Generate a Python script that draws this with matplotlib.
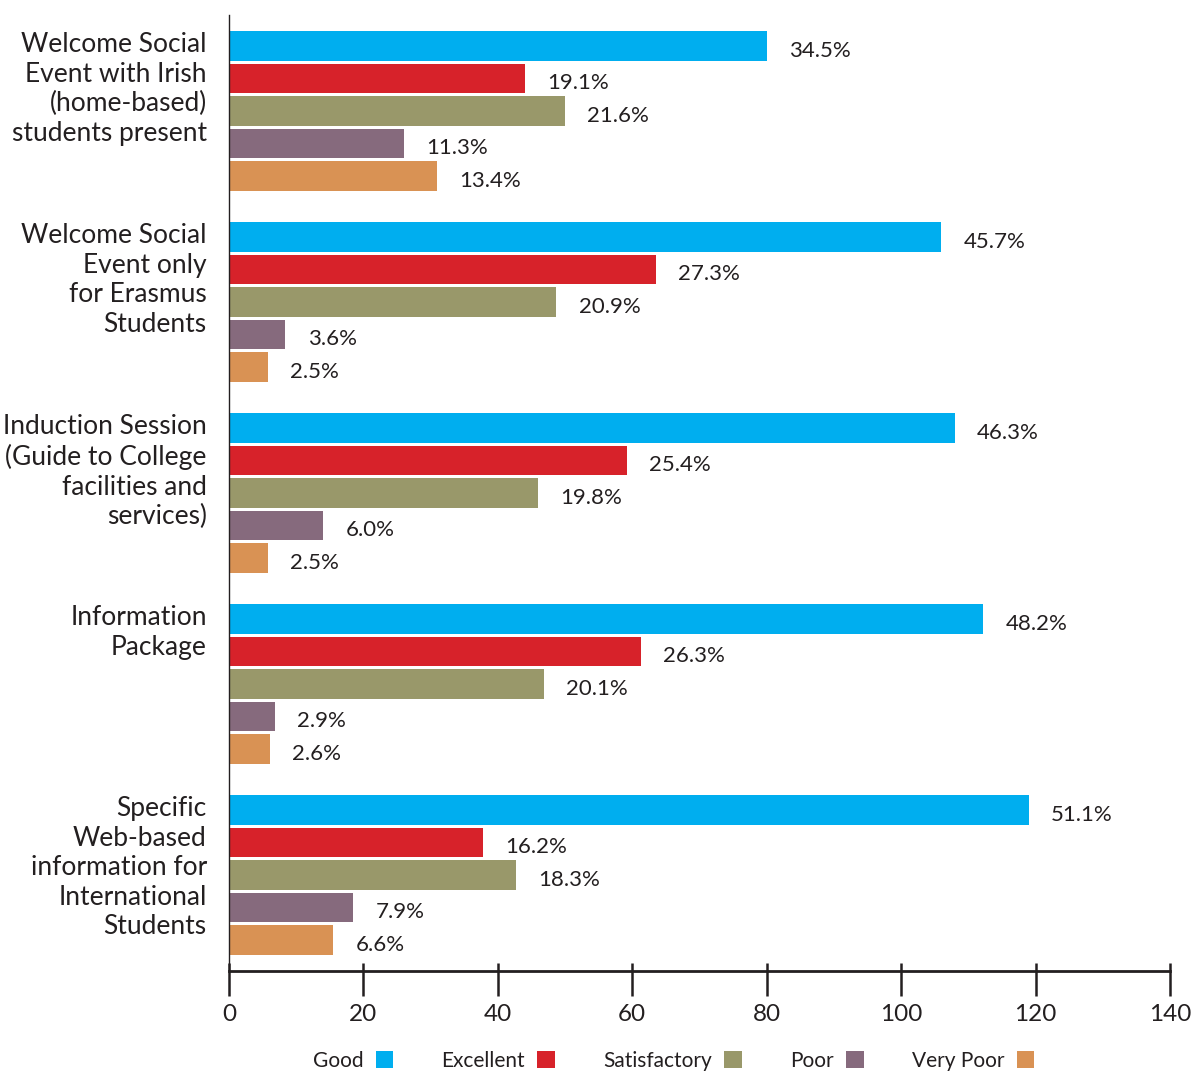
import matplotlib
matplotlib.use("Agg")
import matplotlib.pyplot as plt
from matplotlib.patches import Patch

plt.rcParams['font.family'] = ['Lato', 'DejaVu Sans']

categories = [
    "Welcome Social\nEvent with Irish\n(home-based)\nstudents present",
    "Welcome Social\nEvent only\nfor Erasmus\nStudents",
    "Induction Session\n(Guide to College\nfacilities and\nservices)",
    "Information\nPackage",
    "Specific\nWeb-based\ninformation for\nInternational\nStudents",
]
series = ["Good", "Excellent", "Satisfactory", "Poor", "Very Poor"]
colors = ["#00AEEF", "#D7222A", "#99986A", "#866A7D", "#D99254"]

# counts (bar lengths) per category, in series order
counts = [
    [80, 44, 50, 26, 31],
    [106, 63.5, 48.7, 8.4, 5.8],
    [108, 59.2, 46, 14, 5.8],
    [112.2, 61.3, 46.9, 6.8, 6.1],
    [119, 37.8, 42.7, 18.5, 15.5],
]
pct_labels = [
    ["34.5%", "19.1%", "21.6%", "11.3%", "13.4%"],
    ["45.7%", "27.3%", "20.9%", "3.6%", "2.5%"],
    ["46.3%", "25.4%", "19.8%", "6.0%", "2.5%"],
    ["48.2%", "26.3%", "20.1%", "2.9%", "2.6%"],
    ["51.1%", "16.2%", "18.3%", "7.9%", "6.6%"],
]
xticks = [0, 20, 40, 60, 80, 100, 120, 140]

fig = plt.figure(figsize=(11.91, 10.72), dpi=100)
ax = fig.add_axes([229/1191, 1-971/1072, (1170-229)/1191, (971-15)/1072])

group_step = 5.877
bar_h = 0.92
for gi, (cat, vals, labs) in enumerate(zip(categories, counts, pct_labels)):
    base = gi * group_step
    for j, (v, lab) in enumerate(zip(vals, labs)):
        y = base + j
        ax.barh(y, v, height=bar_h, color=colors[j], edgecolor='none')
        ax.annotate(lab, (v, y), xytext=(16, -3.5), textcoords='offset points',
                    ha='left', va='center', fontsize=16, color='#231F20')
    ax.annotate(cat, (0, base - bar_h/2), xytext=(-16, -1), textcoords='offset points',
                ha='right', va='top', fontsize=19, color='#231F20',
                linespacing=1.22, annotation_clip=False)

ax.set_ylim(4*group_step + 4 + 0.954, -0.954)
ax.set_xlim(0, 140)
ax.set_xticks(xticks)
ax.set_xticks(xticks, minor=True)
ax.xaxis.remove_overlapping_locs = False
ax.set_xticklabels([str(t) for t in xticks], fontsize=17.5, color='#231F20')
ax.set_yticks([])
ax.spines['top'].set_visible(False)
ax.spines['right'].set_visible(False)
ax.spines['left'].set_linewidth(1.0)
ax.spines['left'].set_color('#231F20')
ax.spines['bottom'].set_linewidth(2.0)
ax.spines['bottom'].set_color('#231F20')
ax.tick_params(axis='x', which='major', direction='out', length=18, width=1.8,
               color='#231F20', pad=6)
ax.tick_params(axis='x', which='minor', direction='in', length=6, width=1.8,
               color='#231F20')

handles = [Patch(facecolor=c, edgecolor='none') for c in colors]
leg = fig.legend(handles, series, loc='center', bbox_to_anchor=(0.5655, 1 - 1061/1072),
                 ncol=5, frameon=False, markerfirst=False, fontsize=15,
                 handlelength=0.85, handleheight=0.85, handletextpad=0.6,
                 columnspacing=2.3, borderaxespad=0)
for t in leg.get_texts():
    t.set_color('#231F20')

fig.savefig("out.png", dpi=100)
